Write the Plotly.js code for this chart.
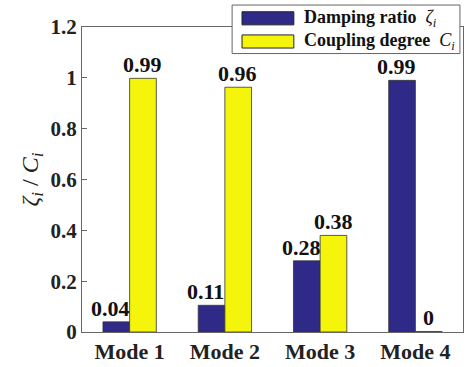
<!DOCTYPE html>
<html><head><meta charset="utf-8">
<script src="https://cdn.plot.ly/plotly-3.0.1.min.js"></script>
<style>body{margin:0;background:#fff}#chart{width:470px;height:367px}</style>
</head><body><div id="chart"></div>
<script>
var modes = ['Mode 1', 'Mode 2', 'Mode 3', 'Mode 4'];
var damping = [0.04, 0.105, 0.28, 0.99];
var dampingLabels = ['0.04', '0.11', '0.28', '0.99'];
var coupling = [0.998, 0.963, 0.38, 0.002];
var couplingLabels = ['0.99', '0.96', '0.38', '0'];
var yTicks = [0, 0.2, 0.4, 0.6, 0.8, 1, 1.2];

var serif = 'Liberation Serif';
var lblFont = {family: serif, size: 22, color: '#111', weight: 'bold'};

var data = [
  {type: 'bar', x: modes, y: damping, name: 'Damping ratio', hoverinfo: 'none',
   marker: {color: '#2f2a88', line: {color: '#333', width: 0.8}}, showlegend: false},
  {type: 'bar', x: modes, y: coupling, name: 'Coupling degree', hoverinfo: 'none',
   marker: {color: '#f5f50c', line: {color: '#333', width: 0.8}}, showlegend: false}
];

var ann = [];
modes.forEach(function (m, i) {
  ann.push({x: m, y: damping[i], text: '<b>' + dampingLabels[i] + '</b>', showarrow: false,
            xanchor: 'center', yanchor: 'bottom', xshift: -19, yshift: -1, font: lblFont});
  ann.push({x: m, y: coupling[i], text: '<b>' + couplingLabels[i] + '</b>', showarrow: false,
            xanchor: 'center', yanchor: 'bottom', xshift: 13, yshift: -1, font: lblFont});
});
ann.push({xref: 'paper', yref: 'paper', x: 0.577, y: 1.029, xanchor: 'left', yanchor: 'middle', showarrow: false,
   text: '<b>Damping ratio</b>  <i>ζ<sub>i</sub></i>', font: {family: serif, size: 18, color: '#111'}});
ann.push({xref: 'paper', yref: 'paper', x: 0.577, y: 0.952, xanchor: 'left', yanchor: 'middle', showarrow: false,
   text: '<b>Coupling degree</b>  <i>C<sub>i</sub></i>', font: {family: serif, size: 18, color: '#111'}});

var layout = {
  width: 470, height: 367,
  margin: {l: 82, r: 7, t: 27, b: 35},
  paper_bgcolor: '#fff', plot_bgcolor: '#fff',
  barmode: 'group', bargap: 0.44, bargroupgap: 0,
  font: {family: serif, color: '#222'},
  xaxis: {type: 'category', showline: true, linecolor: '#666', linewidth: 1, mirror: true,
          ticks: '', tickfont: {family: serif, size: 22, color: '#222', weight: 'bold'},
          showgrid: false, zeroline: false, fixedrange: true},
  yaxis: {range: [0, 1.2], tickvals: yTicks, ticktext: yTicks.map(String),
          showline: true, linecolor: '#666', linewidth: 1, mirror: true,
          ticks: 'inside', ticklen: 5, tickcolor: '#666',
          tickfont: {family: serif, size: 21, color: '#222', weight: 'bold'},
          showgrid: false, zeroline: false,
          title: {text: '<i>ζ<sub>i</sub></i> / <i>C<sub>i</sub></i>', standoff: 5,
                  font: {family: serif, size: 24, color: '#222'}}},
  shapes: [
    {type: 'rect', xref: 'paper', yref: 'paper', x0: 0.394, x1: 0.992, y0: 0.913, y1: 1.072,
     fillcolor: '#fff', line: {color: '#666', width: 1}, layer: 'above'},
    {type: 'rect', xref: 'paper', yref: 'paper', x0: 0.420, x1: 0.556, y0: 1.007, y1: 1.050,
     fillcolor: '#2f2a88', line: {color: '#222', width: 1}, layer: 'above'},
    {type: 'rect', xref: 'paper', yref: 'paper', x0: 0.420, x1: 0.556, y0: 0.931, y1: 0.974,
     fillcolor: '#f5f50c', line: {color: '#222', width: 1}, layer: 'above'}
  ],
  annotations: ann
};

Plotly.newPlot('chart', data, layout, {displayModeBar: false, staticPlot: true});
</script></body></html>
